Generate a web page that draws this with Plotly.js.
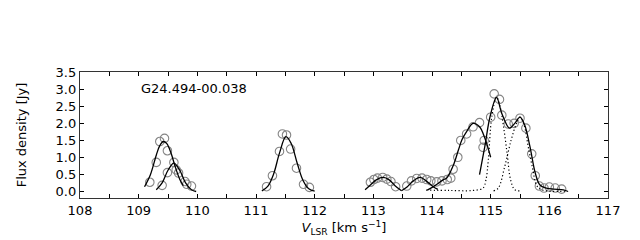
<!DOCTYPE html>
<html>
<head>
<meta charset="utf-8">
<script src="https://cdn.plot.ly/plotly-3.0.1.min.js"></script>
<style>html,body{margin:0;padding:0;background:#fff;}#chart{width:640px;height:240px;}</style>
</head>
<body>
<div id="chart"></div>
<script>
// ---- observed spectrum (open circles) ----
const specX = [109.19, 109.30, 109.36, 109.44, 109.49, 109.40, 109.49, 109.60, 109.64, 109.68, 109.79, 109.82, 109.90,
  111.18, 111.28, 111.40, 111.45, 111.52, 111.59, 111.69, 111.81, 111.91,
  112.95, 113.01, 113.07, 113.16, 113.23, 113.30, 113.38, 113.57, 113.65, 113.74, 113.83, 113.91, 113.98, 114.08, 114.17, 114.26, 114.32,
  114.36, 114.44, 114.49, 114.59, 114.70, 114.81, 114.87, 114.89, 115.00, 115.06, 115.15, 115.19, 115.30, 115.40, 115.50, 115.60, 115.70, 115.76, 115.83, 115.91, 116.00, 116.10, 116.21];
const specY = [0.28, 0.86, 1.47, 1.56, 1.20, 0.19, 0.56, 0.86, 0.64, 0.55, 0.30, 0.22, 0.17,
  0.15, 0.47, 1.18, 1.69, 1.66, 1.25, 0.69, 0.22, 0.13,
  0.28, 0.36, 0.40, 0.42, 0.37, 0.30, 0.15, 0.17, 0.32, 0.39, 0.40, 0.36, 0.32, 0.29, 0.32, 0.36, 0.40,
  0.66, 1.01, 1.50, 1.69, 1.90, 2.02, 1.30, 1.50, 2.18, 2.86, 2.70, 2.24, 1.98, 2.00, 2.15, 1.86, 1.11, 0.47, 0.17, 0.11, 0.14, 0.11, 0.08];

// ---- fitted curves (solid) ----
const fitAx = [109.10, 109.20, 109.30, 109.36, 109.42, 109.48, 109.55, 109.62, 109.70, 109.76];
const fitAy = [0.15, 0.50, 1.07, 1.35, 1.47, 1.41, 1.14, 0.75, 0.37, 0.18];
const fitBx = [109.30, 109.40, 109.50, 109.60, 109.70, 109.80, 109.90, 109.98];
const fitBy = [0.06, 0.26, 0.63, 0.84, 0.63, 0.26, 0.06, 0.01];
const fitCx = [111.10, 111.20, 111.30, 111.40, 111.51, 111.60, 111.70, 111.80, 111.90, 112.00];
const fitCy = [0.03, 0.16, 0.52, 1.13, 1.61, 1.41, 0.85, 0.34, 0.09, 0.02];
const fitDx = [112.86, 112.95, 113.05, 113.17, 113.27, 113.37, 113.48];
const fitDy = [0.06, 0.20, 0.35, 0.42, 0.35, 0.18, 0.03];
const fitEx = [113.48, 113.58, 113.68, 113.80, 113.90, 114.02, 114.10];
const fitEy = [0.03, 0.15, 0.32, 0.42, 0.32, 0.15, 0.07];
const fitFx = [113.92, 114.05, 114.19, 114.25, 114.36, 114.45, 114.51, 114.59, 114.70, 114.81, 114.90, 115.00];
const fitFy = [0.05, 0.18, 0.35, 0.40, 0.76, 1.22, 1.52, 1.76, 2.00, 1.90, 1.57, 1.01];
const fitGx = [114.81, 114.90, 114.99, 115.10, 115.19, 115.32, 115.41, 115.50, 115.58, 115.67, 115.76, 115.84, 115.95, 116.07, 116.24, 116.32];
const fitGy = [0.50, 1.32, 2.20, 2.76, 2.29, 1.86, 2.00, 2.18, 1.95, 1.32, 0.55, 0.20, 0.11, 0.08, 0.06, 0.01];

// ---- components (dotted) ----
const comp1x = [113.90, 114.30, 114.70, 114.87, 114.92, 114.96, 115.02, 115.10, 115.16, 115.22, 115.28, 115.34, 115.41, 115.50];
const comp1y = [0.05, 0.04, 0.04, 0.11, 0.35, 0.93, 2.20, 2.76, 2.50, 1.90, 1.13, 0.35, 0.06, 0.03];
const comp2x = [115.05, 115.13, 115.24, 115.35, 115.44, 115.50, 115.57, 115.64, 115.72, 115.78, 115.87, 116.29];
const comp2y = [0.03, 0.11, 0.74, 1.52, 2.00, 2.18, 1.95, 1.32, 0.64, 0.20, 0.06, 0.02];

// ---- axis labels ----
const xTickLabels = ['108', '109', '110', '111', '112', '113', '114', '115', '116', '117'];
const sourceName = 'G24.494-00.038';

const solid = {color: '#000', width: 1.3, shape: 'spline'};
const dotted = {color: '#000', width: 1.2, dash: '1.2px,2.4px', shape: 'spline'};
const fits = [[fitAx, fitAy], [fitBx, fitBy], [fitCx, fitCy], [fitDx, fitDy], [fitEx, fitEy], [fitFx, fitFy], [fitGx, fitGy]];
const traces = [];
traces.push({x: specX, y: specY, mode: 'markers', type: 'scatter',
  marker: {symbol: 'circle-open', size: 8.5, color: '#858585', line: {width: 1.1, color: '#858585'}}});
fits.forEach(f => traces.push({x: f[0], y: f[1], mode: 'lines', type: 'scatter', line: solid}));
traces.push({x: comp1x, y: comp1y, mode: 'lines', type: 'scatter', line: dotted});
traces.push({x: comp2x, y: comp2y, mode: 'lines', type: 'scatter', line: dotted});

const font = {family: 'DejaVu Sans', size: 13, color: '#000'};
const layout = {
  width: 640, height: 240,
  margin: {l: 80, r: 32, t: 72, b: 42},
  paper_bgcolor: '#fff', plot_bgcolor: '#fff',
  showlegend: false,
  font: font,
  xaxis: {
    range: [108, 117], tickmode: 'array', tickvals: xTickLabels.map(Number), ticktext: xTickLabels,
    ticks: 'inside', ticklen: 4, tickcolor: '#000', tickwidth: 1,
    minor: {dtick: 0.5, tick0: 108, ticks: 'inside', ticklen: 4, tickcolor: '#000', tickwidth: 1, showgrid: false},
    showline: true, linecolor: '#333', linewidth: 1.2, mirror: 'ticks',
    showgrid: false, zeroline: false, automargin: false,
    tickfont: font,
    title: {text: '<i>V</i><sub>LSR</sub> [km s<sup>−1</sup>]', font: font, standoff: 6}
  },
  yaxis: {
    range: [-0.18, 3.5], dtick: 0.5, tick0: 0, tickformat: '.1f',
    ticks: 'inside', ticklen: 4, tickcolor: '#000', tickwidth: 1,
    showline: true, linecolor: '#333', linewidth: 1.2, mirror: 'ticks',
    showgrid: false, zeroline: false, automargin: false,
    tickfont: font,
    title: {text: 'Flux density [Jy]', font: font, standoff: 26}
  },
  annotations: [{
    x: 109.0, y: 3.03, xref: 'x', yref: 'y', text: sourceName, showarrow: false,
    xanchor: 'left', yanchor: 'middle', font: font
  }]
};
Plotly.newPlot('chart', traces, layout, {staticPlot: true, displayModeBar: false});
</script>
</body>
</html>
